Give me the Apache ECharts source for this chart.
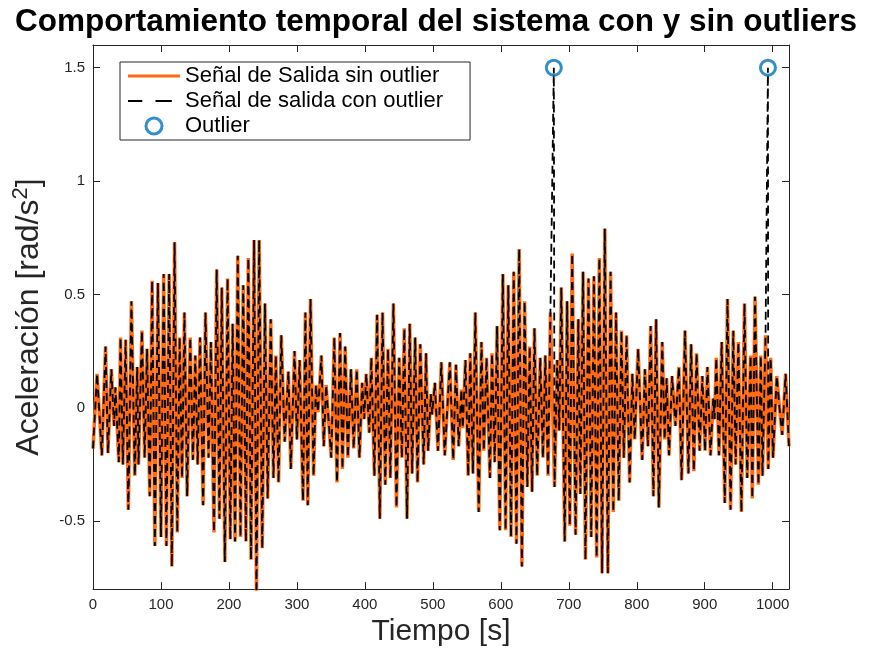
<!DOCTYPE html>
<html>
<head>
<meta charset="utf-8">
<script src="https://cdn.jsdelivr.net/npm/echarts@6/dist/echarts.min.js"></script>
<style>html,body{margin:0;padding:0;background:#fff}#chart{width:872px;height:652px}</style>
</head>
<body>
<div id="chart"></div>
<script>
// ---- data ----
var times = [0,6,13,18.5,22,27,31,33,38,40.5,44,48,52,56.5,61.5,65,67,72,76,79.5,83.5,87,91,95.5,100,104,108,112,116,120,124,127.5,131,134.5,138.5,143,147,150.5,154,157.5,162,165.5,170,173.5,178,182,186,189.5,194,198,202,205.5,209,213,217,221,225,228.5,232.5,237,240.5,244.5,249,253,257,261.5,265.5,269,273,277,282,287.5,291,296.5,300,304,309,312.5,316,320,324.5,328,331,336,339.5,343,350.5,355,359,363.5,367,371,375,379.5,383.5,388,392,396,399,402,406.5,409.5,414,418,422,426,430,434,437.5,442,446.5,450.5,454.5,458,462,466,469.5,474,477.5,481.5,486.5,490,493,497,499,503,507.5,512.5,517.5,525,530,534,538,542,544,548,552,555,559,562.5,567.5,571.5,575,579,584,587,591,594.5,598.5,603,607,611,615,619,623,627,631,635,639,642.5,646,649.5,653.5,658,662,665.5,669.5,673,679,683,686,689,694,697.5,701.5,705,710,714,717,721,724.5,729,733,737,741,745,749,753,757.5,761.5,765.5,769.5,773.5,777.5,781,785,789.5,793.5,797,802,808,812,816.5,820.5,824.5,828.5,832.5,837.5,841,844,847.5,852,857,862,866,871,876,880,884,888,892.5,896.5,900.5,904,908.5,912.5,914.5,917,921,925,929.5,933.5,938,942,945.5,949.5,954,958.5,962.5,967.5,970,974,979,982.5,985,989.5,993.5,997,1000.5,1006,1010,1014,1019,1024];
var sinOutlier = [-0.18,0.15,-0.21,0.27,-0.20,0.17,-0.08,0.09,-0.24,0.31,-0.25,0.30,-0.45,0.47,-0.30,0.18,-0.25,0.34,-0.22,0.26,-0.39,0.56,-0.61,0.55,-0.57,0.59,-0.61,0.59,-0.70,0.73,-0.55,0.31,-0.31,0.42,-0.39,0.31,-0.23,0.23,-0.25,0.31,-0.43,0.42,-0.22,0.29,-0.55,0.61,-0.49,0.53,-0.68,0.57,-0.58,0.37,-0.59,0.67,-0.57,0.54,-0.59,0.66,-0.67,0.74,-0.82,0.74,-0.62,0.46,-0.40,0.39,-0.31,0.23,-0.33,0.32,-0.15,0.16,-0.27,0.25,-0.14,0.21,-0.41,0.42,-0.43,0.48,-0.30,0.10,-0.02,0.23,-0.17,0.10,-0.22,0.31,-0.33,0.33,-0.27,0.27,-0.22,0.17,-0.18,0.17,-0.22,0.11,-0.05,0.15,-0.11,0.22,-0.30,0.41,-0.49,0.42,-0.34,0.26,-0.31,0.46,-0.44,0.22,-0.22,0.35,-0.49,0.37,-0.29,0.31,-0.33,0.28,-0.25,0.24,-0.19,0.06,-0.03,0.11,-0.19,0.20,-0.21,0.20,-0.23,0.19,-0.17,0.08,-0.09,0.21,-0.30,0.24,-0.29,0.42,-0.46,0.29,-0.19,0.22,-0.31,0.24,-0.24,0.36,-0.54,0.59,-0.54,0.54,-0.57,0.60,-0.60,0.70,-0.70,0.47,-0.35,0.27,-0.37,0.35,-0.30,0.22,-0.22,0.23,-0.30,0.42,-0.35,0.21,-0.10,0.53,-0.59,0.47,-0.52,0.68,-0.56,0.39,-0.38,0.60,-0.67,0.57,-0.57,0.58,-0.66,0.66,-0.73,0.79,-0.73,0.60,-0.46,0.42,-0.41,0.34,-0.22,0.32,-0.33,0.15,-0.14,0.26,-0.23,0.17,-0.17,0.36,-0.39,0.39,-0.44,0.29,-0.14,0.13,-0.21,0.14,-0.08,0.18,-0.32,0.34,-0.29,0.28,-0.28,0.24,-0.19,0.14,-0.19,0.18,-0.21,0.04,-0.05,0.22,-0.21,0.29,-0.42,0.48,-0.45,0.34,-0.25,0.29,-0.46,0.46,-0.31,0.23,-0.40,0.49,-0.34,0.23,-0.30,0.32,-0.27,0.22,-0.22,0.14,0.00,-0.12,0.15,-0.17];
var outlierTimes = [678, 993];
var outlierValues = [1.5, 1.5];
var xTicks = [0,100,200,300,400,500,600,700,800,900,1000];
var yTicks = [-0.5,0,0.5,1,1.5];
var seriesNames = ['Señal de Salida sin outlier','Señal de salida con outlier','Outlier'];

// ---- build series data ----
var cleanData = times.map(function(t,i){return [t, sinOutlier[i]];});
var withOutlier = cleanData.map(function(p){return p.slice();});
outlierTimes.forEach(function(t,i){ withOutlier.push([t, outlierValues[i]]); });
withOutlier.sort(function(a,b){return a[0]-b[0];});
var outlierData = outlierTimes.map(function(t,i){return [t, outlierValues[i]];});

var FONT = '"Liberation Sans", Arial, Helvetica, sans-serif';
var AX = '#262626';
var ORANGE = '#ff6a13';
var BLUE = '#0072bd';

function axisBase(pos, showLabel, ticks, extra){
  var o = {
    type:'value', position:pos, gridIndex:0,
    axisLine:{show:true, onZero:false, lineStyle:{color:AX, width:1}},
    axisTick:{show:true, inside:true, length:7, customValues:ticks, lineStyle:{color:AX, width:1}},
    axisLabel:{show:showLabel, customValues:ticks, color:AX, fontSize:15, fontFamily:FONT, margin:8,
      formatter:function(v){return String(v);}},
    splitLine:{show:false}
  };
  for (var k in extra) o[k] = extra[k];
  return o;
}

var chart = echarts.init(document.getElementById('chart'), null, {renderer:'canvas'});
chart.setOption({
  animation:false,
  backgroundColor:'#fff',
  title:{text:'Comportamiento temporal del sistema con y sin outliers', left:'center', top:1,
    textStyle:{fontSize:31.5, fontWeight:'bold', color:'#000', fontFamily:FONT}},
  grid:{left:93, right:83, top:45, bottom:57, containLabel:false},
  legend:{
    orient:'vertical', left:120, top:62,
    data:[
      {name:seriesNames[0], icon:'path://M0,0H51V3H0Z', itemStyle:{color:ORANGE, borderWidth:0}},
      {name:seriesNames[1], icon:'path://M0,0H14V2H0Z M27,0H43V2H27Z M51,0L51,2', itemStyle:{color:'#000', borderWidth:0}},
      {name:seriesNames[2], icon:'circle', itemStyle:{color:'rgba(255,255,255,0)', borderColor:BLUE, borderWidth:3}}
    ],
    backgroundColor:'#fff', borderColor:AX, borderWidth:1,
    padding:[3,27,3,8], itemGap:3, itemWidth:52, itemHeight:16,
    textStyle:{fontSize:22, color:'#000', fontFamily:FONT}
  },
  xAxis:[
    axisBase('bottom', true, xTicks, {min:0, max:1024, name:'Tiempo [s]', nameLocation:'middle', nameGap:17,
      nameTextStyle:{fontSize:30, color:AX, fontFamily:FONT}}),
    axisBase('top', false, xTicks, {min:0, max:1024})
  ],
  yAxis:[
    axisBase('left', true, yTicks, {min:-0.8, max:1.6, name:'Aceleración [rad/s{sup|2}]', nameLocation:'middle', nameGap:34,
      nameRotate:90,
      nameTextStyle:{fontSize:32, color:AX, fontFamily:FONT, lineHeight:38,
        rich:{sup:{fontSize:22, color:AX, fontFamily:FONT, verticalAlign:'top', lineHeight:22}}}}),
    axisBase('right', false, yTicks, {min:-0.8, max:1.6})
  ],
  series:[
    {name:seriesNames[0], type:'line', data:cleanData, xAxisIndex:0, yAxisIndex:0,
      symbol:'none', showSymbol:false, lineStyle:{color:ORANGE, width:3.5}, itemStyle:{color:ORANGE}, z:2},
    {name:seriesNames[1], type:'line', data:withOutlier, xAxisIndex:0, yAxisIndex:0,
      symbol:'none', showSymbol:false, lineStyle:{color:'#000', width:1.8, type:[8,5]}, itemStyle:{color:'#000'}, z:3},
    {name:seriesNames[2], type:'scatter', data:outlierData, xAxisIndex:0, yAxisIndex:0,
      symbol:'circle', symbolSize:15,
      itemStyle:{color:'rgba(255,255,255,0)', borderColor:BLUE, borderWidth:3}, z:4}
  ]
});
</script>
</body>
</html>
